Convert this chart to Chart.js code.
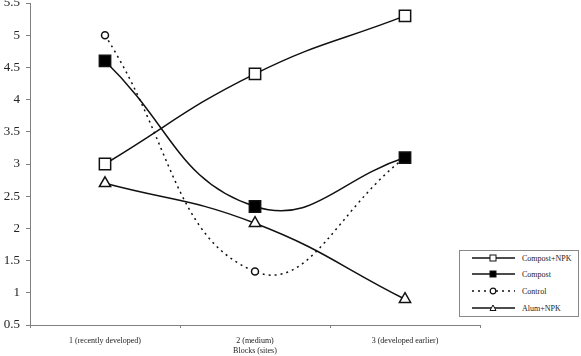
<!DOCTYPE html>
<html><head><meta charset="utf-8">
<script src="https://cdn.jsdelivr.net/npm/chart.js@4/dist/chart.umd.min.js"></script>
<style>
html,body{margin:0;padding:0;background:#fff;}
#wrap{position:relative;width:581px;height:356px;}
#legend{position:absolute;left:459px;top:250px;width:120px;height:67px;border:1px solid #888;box-sizing:border-box;background:#fff;font-family:"Liberation Serif",serif;font-size:8px;color:#222;}
.row{position:absolute;left:0;height:12px;}
.row svg{position:absolute;left:11px;top:0;}
.row span{position:absolute;left:62px;top:1px;white-space:nowrap;}
</style></head>
<body>
<div id="wrap"><canvas id="c" width="581" height="356"></canvas>
<div id="legend"></div></div>
<script>
const categories = ['1 (recently developed)', '2 (medium)', '3 (developed earlier)'];
const compostNPK = [3.0, 4.4, 5.3];
const compost = [4.6, 2.34, 3.1];
const control = [5.0, 1.33, 3.1];
const alumNPK = [2.7, 2.08, 0.9];
const seriesNames = ['Compost+NPK', 'Compost', 'Control', 'Alum+NPK'];
const xTitle = 'Blocks (sites)';

const FONT = '"Liberation Serif", "Times New Roman", serif';
const axisColor = '#808080';

const datasets = [
  {label: seriesNames[0], data: compostNPK, borderColor:'#111', borderWidth:1.5, pointStyle:'rect', pointRadius:8, pointBackgroundColor:'#fff', pointBorderColor:'#111', pointBorderWidth:1.5, tension:0.45},
  {label: seriesNames[1], data: compost, borderColor:'#111', borderWidth:1.5, pointStyle:'rect', pointRadius:8, pointBackgroundColor:'#000', pointBorderColor:'#111', pointBorderWidth:1.5, tension:0.45},
  {label: seriesNames[2], data: control, borderColor:'#111', borderWidth:1.5, borderDash:[2,4], pointStyle:'circle', pointRadius:3.5, pointBackgroundColor:'#fff', pointBorderColor:'#111', pointBorderWidth:1.5, tension:0.45},
  {label: seriesNames[3], data: alumNPK, borderColor:'#111', borderWidth:1.5, pointStyle:'triangle', pointRadius:6.5, pointBackgroundColor:'#fff', pointBorderColor:'#111', pointBorderWidth:1.5, tension:0.45}
];

new Chart(document.getElementById('c'), {
  type: 'line',
  data: {labels: categories, datasets},
  options: {
    responsive:false, animation:false,
    layout:{padding:{top:3,right:101,left:0,bottom:0}, autoPadding:false},
    plugins:{legend:{display:false}, tooltip:{enabled:false}},
    scales:{
      x:{
        offset:true,
        grid:{offset:true, drawOnChartArea:false, tickLength:3, color:axisColor},
        border:{color:axisColor, width:1},
        ticks:{font:{family:FONT,size:8}, color:'#222', padding:8, maxRotation:0},
        title:{display:true, text:xTitle, font:{family:FONT,size:8}, color:'#222', padding:{top:6,bottom:0}},
        afterFit(s){ s.height = 31; s.paddingLeft = 0; s.paddingRight = 0; }
      },
      y:{
        min:0.5, max:5.5,
        ticks:{stepSize:0.5, font:{family:FONT,size:13}, color:'#222', padding:6,
          callback:(v)=>String(Math.round(v*10)/10)},
        grid:{drawOnChartArea:false, tickLength:4, color:axisColor},
        border:{color:axisColor, width:1},
        afterFit(s){ s.width = 30; s.paddingTop = 0; s.paddingBottom = 0; }
      }
    }
  }
});

// HTML legend
const leg = document.getElementById('legend');
const rowsY = [2, 18, 35, 52];
const markers = [
  '<rect x="19" y="2" width="6" height="6" fill="#fff" stroke="#111" stroke-width="1"/>',
  '<rect x="19" y="2" width="6" height="6" fill="#000" stroke="#111" stroke-width="1"/>',
  '<circle cx="22" cy="5" r="2.8" fill="#fff" stroke="#111" stroke-width="1.2"/>',
  '<polygon points="22,2 25,7.5 19,7.5" fill="#fff" stroke="#111" stroke-width="1"/>'
];
seriesNames.forEach((n,i)=>{
  const d = document.createElement('div');
  d.className='row'; d.style.top = rowsY[i]+'px'; d.style.width='118px';
  const dash = i===2 ? ' stroke-dasharray="2,4"' : '';
  d.innerHTML = '<svg width="46" height="10"><line x1="1" y1="5" x2="44" y2="5" stroke="#111" stroke-width="1.3"'+dash+'/>'+markers[i]+'</svg><span>'+n+'</span>';
  leg.appendChild(d);
});
</script>
</body></html>
